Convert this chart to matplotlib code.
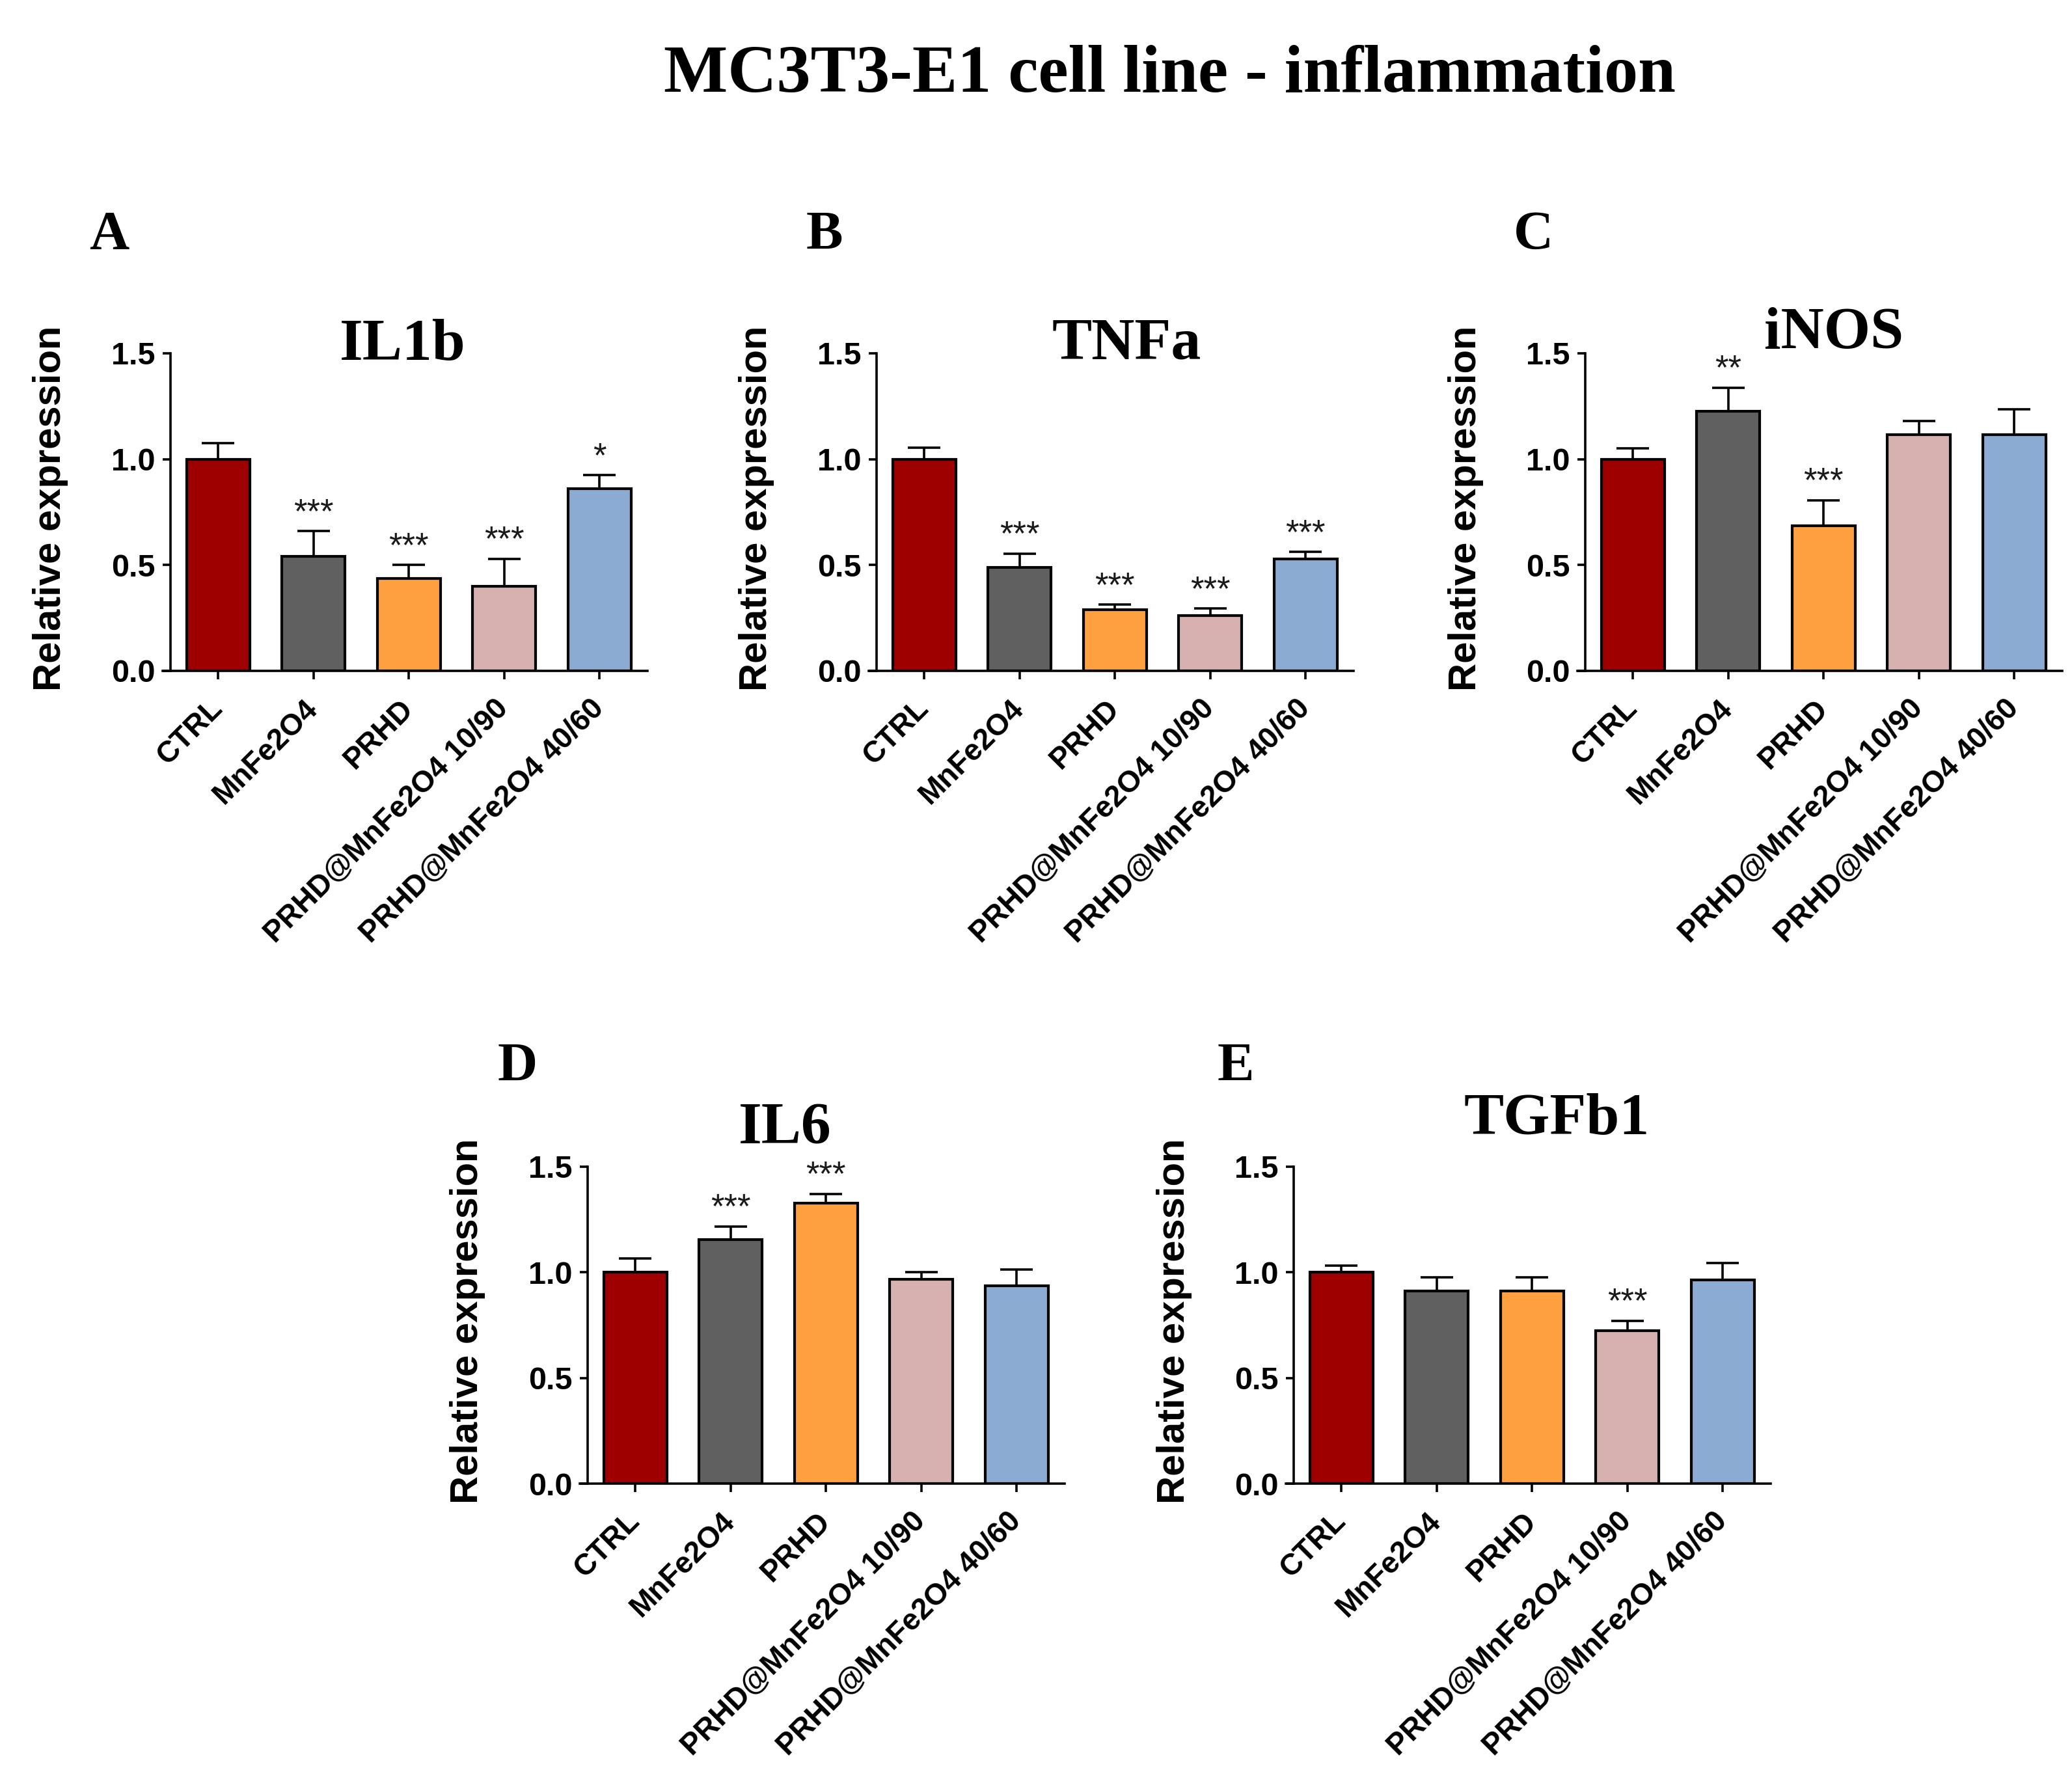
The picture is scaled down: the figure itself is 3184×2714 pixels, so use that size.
import matplotlib
matplotlib.use('Agg')
import matplotlib.pyplot as plt
import matplotlib.transforms as mtransforms
import numpy as np

# ---------------- data ----------------
categories = ['CTRL', 'MnFe2O4', 'PRHD', 'PRHD@MnFe2O4 10/90', 'PRHD@MnFe2O4 40/60']
bar_colors = ['#9E0000', '#606060', '#FFA040', '#D6B1AF', '#8CABD3']
yticks = [0.0, 0.5, 1.0, 1.5]
ytick_labels = ['0.0', '0.5', '1.0', '1.5']

il1b_mean = [1.00, 0.54, 0.435, 0.40, 0.86]
il1b_err = [0.076, 0.12, 0.065, 0.13, 0.064]
il1b_sig = ['', '***', '***', '***', '*']

tnfa_mean = [1.00, 0.49, 0.29, 0.26, 0.53]
tnfa_err = [0.055, 0.064, 0.022, 0.034, 0.031]
tnfa_sig = ['', '***', '***', '***', '***']

inos_mean = [1.00, 1.225, 0.685, 1.117, 1.117]
inos_err = [0.052, 0.112, 0.12, 0.064, 0.12]
inos_sig = ['', '**', '***', '', '']

il6_mean = [1.00, 1.154, 1.328, 0.966, 0.937]
il6_err = [0.067, 0.064, 0.044, 0.034, 0.077]
il6_sig = ['', '***', '***', '', '']

tgfb1_mean = [1.00, 0.912, 0.912, 0.725, 0.965]
tgfb1_err = [0.032, 0.064, 0.064, 0.046, 0.078]
tgfb1_sig = ['', '', '', '***', '']

main_title = 'MC3T3-E1 cell line - inflammation'
ylabel = 'Relative expression'

# ---------------- layout (pixels) ----------------
W, H = 3184, 2714
DPI = 100
fig = plt.figure(figsize=(W / DPI, H / DPI), dpi=DPI)
fig.patch.set_facecolor('white')

SERIF = 'Liberation Serif'
SANS = 'Liberation Sans'

unit_px = 146.5          # pixels per category step
left_ext = 0.08          # x-axis extends a bit left of y-axis
ax_w_px = (5.0 + left_ext) * unit_px

panels = [
    # letter, gene, mean, err, sig, yaxis_x, y0, y15, letter(x,y), title(cx, baseline)
    ('A', 'IL1b', il1b_mean, il1b_err, il1b_sig, 262, 1031, 543, (137, 383), (619, 553)),
    ('B', 'TNFa', tnfa_mean, tnfa_err, tnfa_sig, 1347, 1031, 543, (1239, 383), (1731, 551)),
    ('C', 'iNOS', inos_mean, inos_err, inos_sig, 2436, 1031, 543, (2326, 383), (2818, 535)),
    ('D', 'IL6', il6_mean, il6_err, il6_sig, 903, 2280, 1793, (765, 1661), (1206, 1757)),
    ('E', 'TGFb1', tgfb1_mean, tgfb1_err, tgfb1_sig, 1988, 2280, 1793, (1870, 1661), (2392, 1743)),
]

x = np.arange(len(categories))
LW = 2.6

for letter, gene, mean, err, sig, yax, y0, y15, lpos, tpos in panels:
    ax_left = yax - left_ext * unit_px
    ax = fig.add_axes([ax_left / W, 1 - y0 / H, ax_w_px / W, (y0 - y15) / H])
    ax.bar(x, mean, width=0.66, color=bar_colors, edgecolor='black',
           linewidth=3.0, zorder=3)
    ax.errorbar(x, mean, yerr=[np.zeros(len(mean)), err], fmt='none',
                ecolor='black', elinewidth=LW, capsize=18, capthick=LW, zorder=2)
    for xi, m, e, s in zip(x, mean, err, sig):
        if s:
            ax.text(xi, m + e + 0.085, s, ha='center', va='center',
                    fontsize=38, family=SANS, color='#1a1a1a', zorder=4)
    ax.set_xlim(-0.5 - left_ext, 4.5)
    ax.set_ylim(0, 1.5)
    ax.spines['top'].set_visible(False)
    ax.spines['right'].set_visible(False)
    ax.spines['left'].set_position(('data', -0.5))
    for sp in ('left', 'bottom'):
        ax.spines[sp].set_linewidth(LW)
    ax.set_yticks(yticks)
    ax.set_yticklabels(ytick_labels, fontsize=35, fontweight='bold', family=SANS)
    ax.set_xticks(x)
    offset = mtransforms.ScaledTranslation(12 / DPI, 0, fig.dpi_scale_trans)
    ax.set_xticklabels(categories, fontsize=33, fontweight='bold', family=SANS,
                       rotation=45, ha='right', va='center', rotation_mode='anchor')
    for lab in ax.get_xticklabels():
        lab.set_transform(lab.get_transform() + offset)
    ax.tick_params(axis='both', direction='out', length=9, width=LW, color='black')
    ax.tick_params(axis='y', pad=8)
    ax.tick_params(axis='x', pad=28)
    ax.patch.set_visible(False)

    # y label
    fig.text((yax - 184) / W, 1 - ((y0 + y15) / 2 - 6) / H, ylabel, rotation=90,
             ha='center', va='center', fontsize=43, fontweight='bold', family=SANS)
    # panel letter
    fig.text(lpos[0] / W, 1 - lpos[1] / H, letter, ha='left', va='baseline',
             fontsize=61, fontweight='bold', family=SERIF)
    # gene title
    fig.text(tpos[0] / W, 1 - tpos[1] / H, gene, ha='center', va='baseline',
             fontsize=66, fontweight='bold', family=SERIF)

fig.text(1797 / W, 1 - 141 / H, main_title, ha='center', va='baseline',
         fontsize=75, fontweight='bold', family=SERIF)

fig.savefig('out.png', dpi=DPI, facecolor='white')
